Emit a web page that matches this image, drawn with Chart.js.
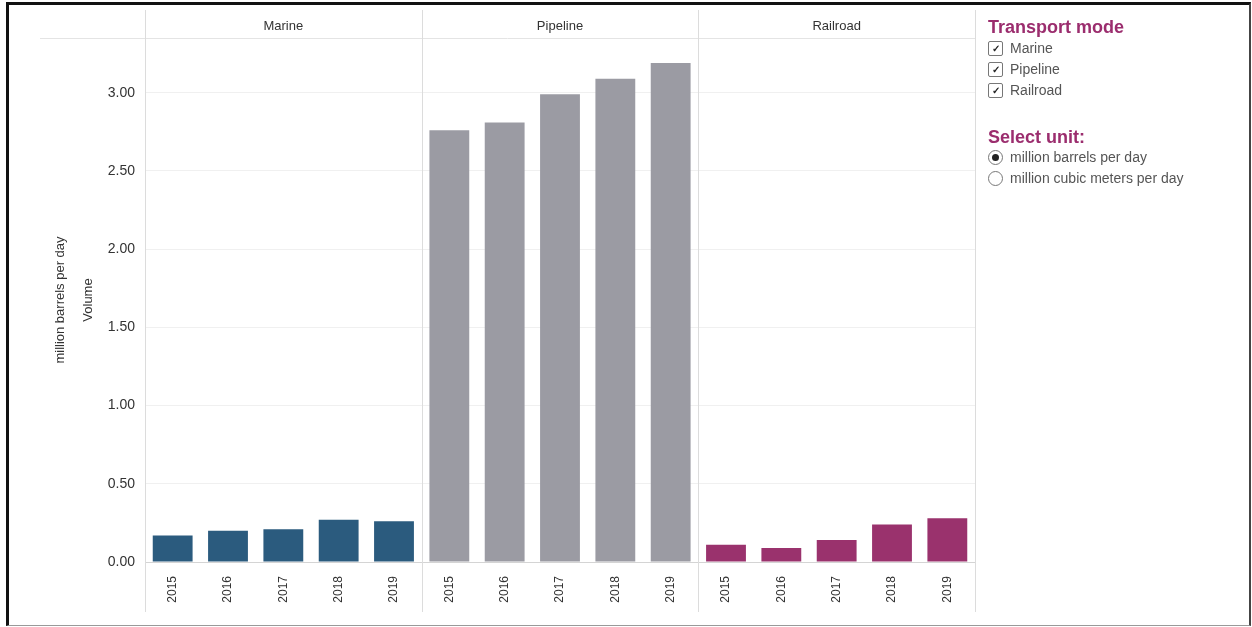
<!DOCTYPE html>
<html>
<head>
<meta charset="utf-8">
<script src="https://cdn.jsdelivr.net/npm/chart.js@4.4.1/dist/chart.umd.min.js"></script>
<style>
  body { margin: 0; width: 1252px; height: 627px; overflow: hidden; background: #fff;
         font-family: "Liberation Sans", Arial, sans-serif; }
  #frame { position: absolute; left: 6px; top: 2px; width: 1240px; height: 620px;
           border-top: 3px solid #111; border-left: 3px solid #111;
           border-right: 2px solid #444; border-bottom: 1px solid #999; pointer-events: none; }
  #wrap { position: absolute; left: 0; top: 0; }
  #side { position: absolute; left: 988px; top: 0; width: 260px; height: 600px; }
  .ttl { position: absolute; left: 0; font-weight: bold; font-size: 18px; line-height: 20px; color: #9b2d6e; white-space: nowrap; }
  .row { position: absolute; left: 0; height: 21px; line-height: 21px; white-space: nowrap; color: #555; }
  .box { position: absolute; left: 0; top: 3px; width: 13px; height: 13px; border: 1.5px solid #777; border-radius: 2px;
         font-size: 10px; line-height: 13px; text-align: center; color: #222; font-weight: bold; }
  .rad { position: absolute; left: 0; top: 3px; width: 13px; height: 13px; border: 1.5px solid #777; border-radius: 50%; }
  .rad.on::after { content: ""; position: absolute; left: 3px; top: 3px; width: 7px; height: 7px; border-radius: 50%; background: #222; }
  .row span { position: absolute; left: 22px; }
</style>
</head>
<body>
<div id="wrap"><canvas id="chart" width="990" height="627"></canvas></div>
<div id="side">
  <div class="ttl" style="top:17px">Transport mode</div>
  <div id="modeRows"></div>
  <div class="ttl" style="top:127px">Select unit:</div>
  <div id="unitRows"></div>
</div>
<div id="frame"></div>
<script>
const years = ["2015", "2016", "2017", "2018", "2019"];
const modes = ["Marine", "Pipeline", "Railroad"];
const marine = [0.17, 0.20, 0.21, 0.27, 0.26];
const pipeline = [2.76, 2.81, 2.99, 3.09, 3.19];
const railroad = [0.11, 0.09, 0.14, 0.24, 0.28];
const modeColors = ["#2b5b7e", "#9b9ba3", "#9a326d"];
const units = ["million barrels per day", "million cubic meters per day"];

// one category per year per panel, each dataset only fills its own panel
const labels = [...years, ...years, ...years];
const pad = new Array(5).fill(null);
const series = [
  [...marine, ...pad, ...pad],
  [...pad, ...pipeline, ...pad],
  [...pad, ...pad, ...railroad],
];

// side controls
const modeRows = document.getElementById("modeRows");
modes.forEach((m, i) => {
  const r = document.createElement("div");
  r.className = "row";
  r.style.top = (38 + i * 21) + "px";
  r.style.fontSize = "14px";
  r.innerHTML = '<div class="box">&#10003;</div><span>' + m + '</span>';
  modeRows.appendChild(r);
});
const unitRows = document.getElementById("unitRows");
units.forEach((u, i) => {
  const r = document.createElement("div");
  r.className = "row";
  r.style.top = (147 + i * 21) + "px";
  r.style.fontSize = "14px";
  r.innerHTML = '<div class="rad' + (i === 0 ? ' on' : '') + '"></div><span>' + u + '</span>';
  unitRows.appendChild(r);
});

const panels = {
  id: "panels",
  beforeDatasetsDraw(chart) {
    const { ctx, chartArea, scales: { x } } = chart;
    const half = (x.getPixelForValue(1) - x.getPixelForValue(0)) / 2;
    ctx.save();
    ctx.strokeStyle = "#e4e4e4";
    ctx.lineWidth = 1;
    ctx.beginPath();
    ctx.moveTo(40, chartArea.top + 0.5);
    ctx.lineTo(chartArea.right, chartArea.top + 0.5);
    ctx.stroke();
    ctx.strokeStyle = "#dcdcdc";
    for (let p = 0; p <= 3; p++) {
      const xx = p < 3 ? x.getPixelForValue(p * 5) - half : chartArea.right;
      ctx.beginPath();
      ctx.moveTo(Math.round(xx) + 0.5, 10);
      ctx.lineTo(Math.round(xx) + 0.5, 612);
      ctx.stroke();
    }
    ctx.fillStyle = "#333";
    ctx.font = '13px "Liberation Sans", Arial, sans-serif';
    ctx.textAlign = "center";
    ctx.textBaseline = "middle";
    modes.forEach((m, p) => {
      const l = x.getPixelForValue(p * 5) - half;
      const r = x.getPixelForValue(p * 5 + 4) + half;
      ctx.fillText(m, (l + r) / 2, 26);
    });
    ctx.restore();
  }
};

new Chart(document.getElementById("chart"), {
  type: "bar",
  data: {
    labels: labels,
    datasets: modes.map((m, i) => ({
      label: m,
      data: series[i],
      backgroundColor: modeColors[i],
      grouped: false,
      barPercentage: 0.72,
      categoryPercentage: 1,
    })),
  },
  options: {
    responsive: false,
    animation: false,
    layout: { padding: { left: 40, right: 15, top: 38, bottom: 0 } },
    plugins: { legend: { display: false }, tooltip: { enabled: false } },
    scales: {
      x: {
        grid: { display: false },
        border: { display: false },
        ticks: {
          autoSkip: false, minRotation: 90, maxRotation: 90, padding: 6,
          color: "#333", font: { family: '"Liberation Sans", Arial, sans-serif', size: 12 },
        },
        afterFit(s) { s.height = 65; },
      },
      y: {
        min: 0,
        max: 3.35,
        border: { display: false },
        grid: {
          drawTicks: false,
          color: c => (c.tick && c.tick.value === 0 ? "#d4d4d4" : "#f0f0f0"),
        },
        ticks: {
          stepSize: 0.5, padding: 10, color: "#333",
          font: { family: '"Liberation Sans", Arial, sans-serif', size: 14 },
          callback: v => v.toFixed(2),
        },
        afterBuildTicks(s) {
          s.ticks = s.ticks.filter(t => Math.abs(t.value * 2 - Math.round(t.value * 2)) < 1e-6);
        },
        title: {
          display: true,
          text: ["million barrels per day", "Volume"],
          color: "#333",
          font: { family: '"Liberation Sans", Arial, sans-serif', size: 13, lineHeight: 2.15 },
          padding: { top: 6, bottom: 0 },
        },
        afterFit(s) { s.width = 105; },
      },
    },
  },
  plugins: [panels],
});
</script>
</body>
</html>
